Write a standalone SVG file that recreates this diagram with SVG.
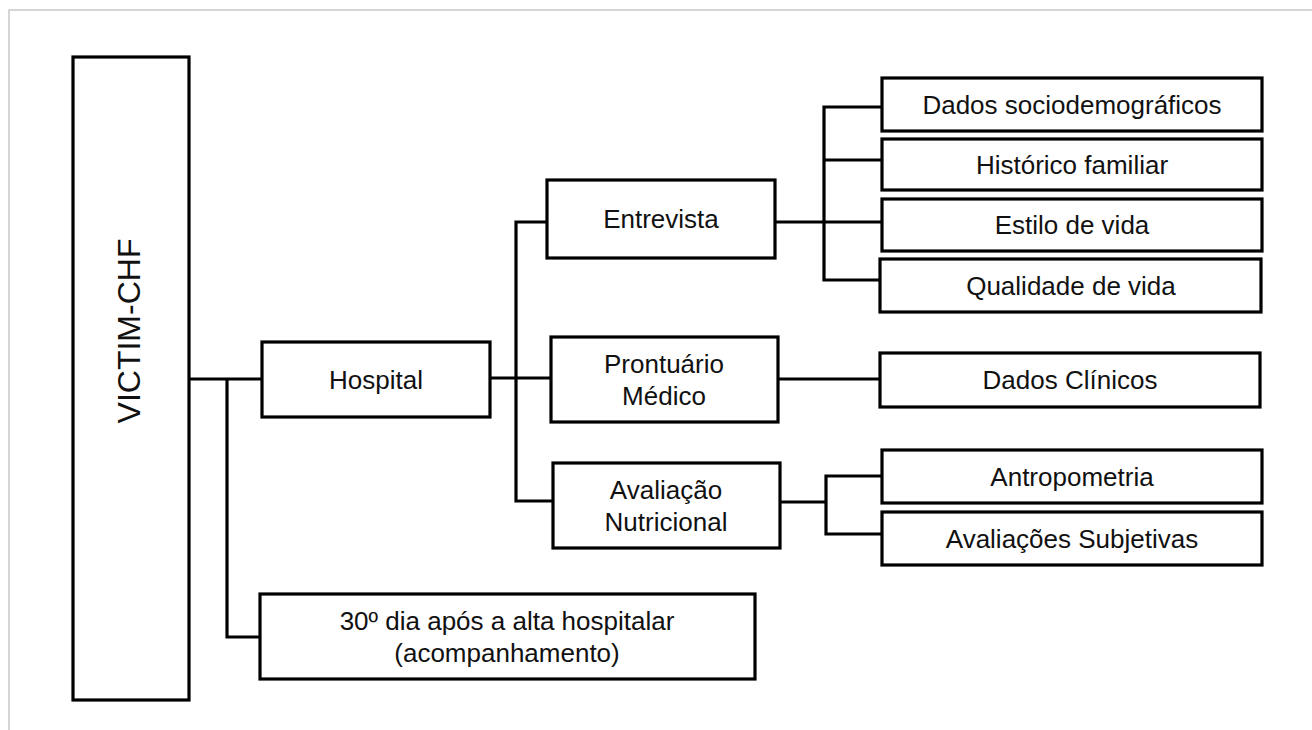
<svg xmlns="http://www.w3.org/2000/svg" width="1312" height="730" viewBox="0 0 1312 730">
<style>
.box{fill:#fff;stroke:#000;stroke-width:3.2}
.ln{fill:none;stroke:#000;stroke-width:3.2}
.t{font-family:"Liberation Sans",Arial,sans-serif;font-size:26px;fill:#111;text-anchor:middle}
.big{font-size:32px}
</style>
<rect width="1312" height="730" fill="#fff"/>
<path d="M9,730 V10 H1312" fill="none" stroke="#c8c8c8" stroke-width="1.5"/>
<g id="connectors">
<path class="ln" d="M189,379 H262"/>
<path class="ln" d="M227,379 V637 H260"/>
<path class="ln" d="M490,378 H551"/>
<path class="ln" d="M547,222 H516 V501 H553"/>
<path class="ln" d="M775,222 H882"/>
<path class="ln" d="M882,107 H824 V280 H882"/>
<path class="ln" d="M824,160 H882"/>
<path class="ln" d="M778,379 H880"/>
<path class="ln" d="M780,502 H826"/>
<path class="ln" d="M882,476 H826 V534 H882"/>
</g>
<g id="victim">
<rect class="box" x="73" y="57" width="116" height="643"/>
<text class="t big" transform="translate(140,331) rotate(-90)">VICTIM-CHF</text>
</g>
<g id="hospital">
<rect class="box" x="262" y="342" width="228" height="75"/>
<text class="t" x="376" y="389">Hospital</text>
</g>
<g id="acompanhamento">
<rect class="box" x="260" y="594" width="495" height="85"/>
<text class="t" x="507" y="630">30º dia após a alta hospitalar</text>
<text class="t" x="507" y="662">(acompanhamento)</text>
</g>
<g id="entrevista">
<rect class="box" x="547" y="180" width="228" height="78"/>
<text class="t" x="661" y="228">Entrevista</text>
</g>
<g id="prontuario">
<rect class="box" x="551" y="337" width="227" height="85"/>
<text class="t" x="664" y="373">Prontuário</text>
<text class="t" x="664" y="405">Médico</text>
</g>
<g id="avaliacao">
<rect class="box" x="553" y="463" width="227" height="85"/>
<text class="t" x="666" y="499">Avaliação</text>
<text class="t" x="666" y="531">Nutricional</text>
</g>
<g id="socio">
<rect class="box" x="882" y="78" width="380" height="53"/>
<text class="t" x="1072" y="114">Dados sociodemográficos</text>
</g>
<g id="historico">
<rect class="box" x="882" y="139" width="380" height="51"/>
<text class="t" x="1072" y="174">Histórico familiar</text>
</g>
<g id="estilo">
<rect class="box" x="882" y="199" width="380" height="52"/>
<text class="t" x="1072" y="234">Estilo de vida</text>
</g>
<g id="qualidade">
<rect class="box" x="880" y="259" width="381" height="53"/>
<text class="t" x="1071" y="295">Qualidade de vida</text>
</g>
<g id="clinicos">
<rect class="box" x="880" y="353" width="380" height="54"/>
<text class="t" x="1070" y="389">Dados Clínicos</text>
</g>
<g id="antropometria">
<rect class="box" x="882" y="450" width="380" height="53"/>
<text class="t" x="1072" y="486">Antropometria</text>
</g>
<g id="subjetivas">
<rect class="box" x="882" y="512" width="380" height="53"/>
<text class="t" x="1072" y="548">Avaliações Subjetivas</text>
</g>
</svg>
